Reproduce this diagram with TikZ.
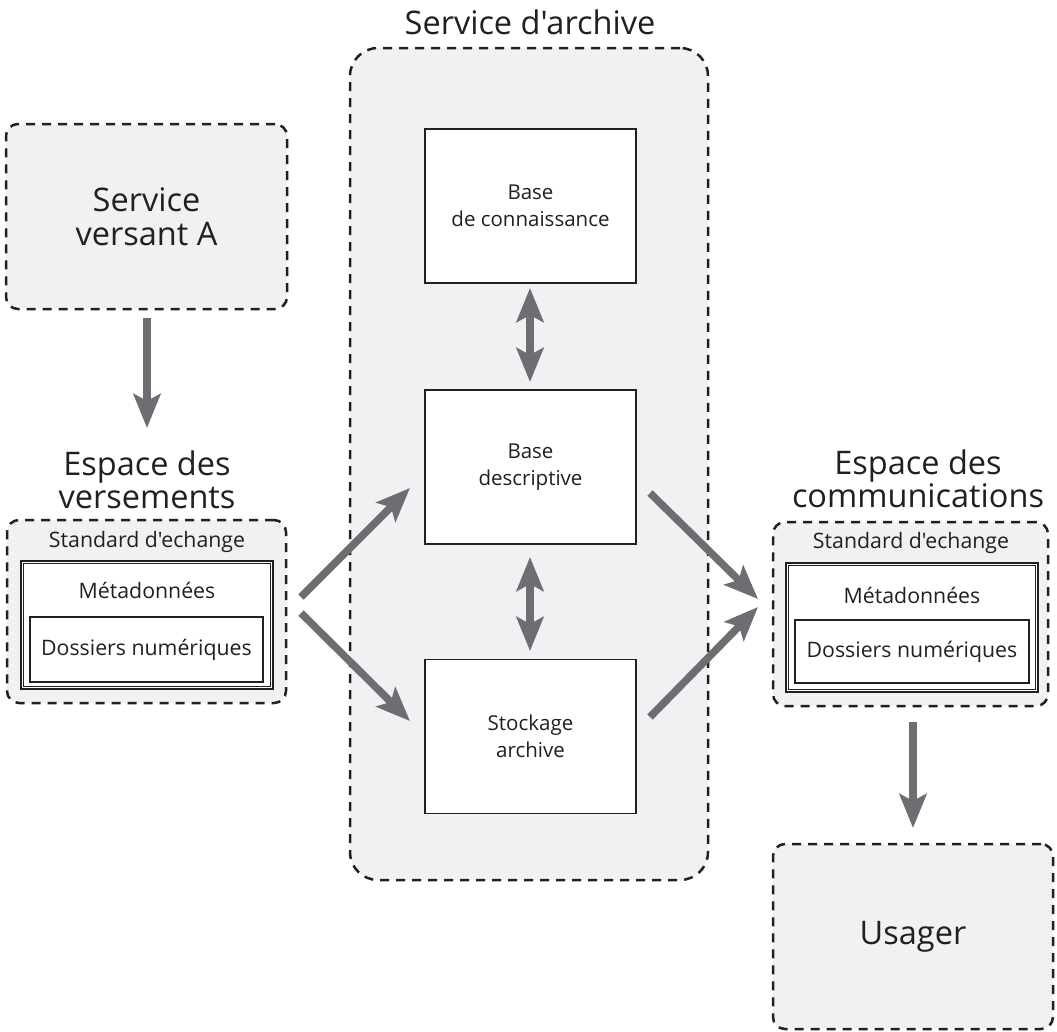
\documentclass[tikz,border=0pt]{standalone}
\usepackage{fontspec}
\setmainfont{Open Sans}[Ligatures=TeXOff]
\usetikzlibrary{arrows.meta}
\definecolor{ink}{HTML}{231F20}
\definecolor{panel}{HTML}{F0F1F3}
\definecolor{flow}{HTML}{6D6E71}
\newcommand{\bigtxt}{\fontsize{32.5}{33.5}\selectfont}
\newcommand{\midtxt}{\fontsize{20.5}{26.5}\selectfont}
\newcommand{\smalltxt}{\fontsize{21.3}{25}\selectfont}
\begin{document}
\begin{tikzpicture}[x=1pt,y=-1pt,
  zone/.style={draw=ink, fill=panel, line width=2.5pt, dash pattern=on 9pt off 7pt,
    rounded corners=12pt, inner sep=0pt, text=ink, align=center},
  card/.style={draw=ink, fill=white, line width=1.3pt, minimum width=211pt,
    minimum height=154pt, text=ink, align=center, inner sep=0pt},
  frame/.style={draw=ink, fill=white, line width=2pt, inner sep=0pt},
  frameline/.style={draw=ink, line width=1pt},
  docbox/.style={draw=ink, fill=white, line width=2.2pt, inner sep=0pt, text=ink},
  label/.style={text=ink, align=center, inner sep=0pt},
  flowarrow/.style={draw=flow, line width=7.5pt,
    -{Stealth[length=34pt,width=27pt,inset=7pt]}},
  twoway/.style={draw=flow, line width=7.5pt,
    {Stealth[length=34pt,width=27pt,inset=7pt]}-{Stealth[length=34pt,width=27pt,inset=7pt]}}
]
\useasboundingbox (0,0) rectangle (1057,1031);

% ---- central archive service ----
\node[label, font=\bigtxt] (archtitle) at (530,22) {Service d'archive};
\node[zone, rounded corners=28pt, minimum width=358pt, minimum height=832pt] (archive) at (529,464) {};
\node[card, font=\midtxt] (conn) at (530.5,206) {Base\\de connaissance};
\node[card, font=\midtxt] (desc) at (530.5,467) {Base\\descriptive};
\node[card, font=\midtxt] (stock) at (530.5,736.5) {Stockage\\archive};

% ---- producer side ----
\node[zone, font=\bigtxt, minimum width=281pt, minimum height=185pt] (versant) at (146.5,216.5) {Service\\versant A};
\node[label, font=\bigtxt] (espV) at (147,480) {Espace des\\versements};
\node[zone, minimum width=279pt, minimum height=183pt] (echL) at (146.5,611.5) {};
\node[label, font=\smalltxt] (stdL) at (147,542) {Standard d'echange};
\node[frame, minimum width=252pt, minimum height=128pt] (metaL) at (147,625) {};
\draw[frameline] ([shift={(3.5,3.5)}]metaL.north west) rectangle ([shift={(-3.5,-3.5)}]metaL.south east);
\node[label, font=\smalltxt] (metaLtxt) at (147,590) {Métadonnées};
\node[docbox, font=\smalltxt, minimum width=233pt, minimum height=65pt] (dossL) at (146.5,649.5) {Dossiers numériques};

% ---- user side ----
\node[label, font=\bigtxt] (espC) at (918,479) {Espace des\\communications};
\node[zone, minimum width=275pt, minimum height=184pt] (echR) at (910.5,614) {};
\node[label, font=\smalltxt] (stdR) at (911,543) {Standard d'echange};
\node[frame, minimum width=252pt, minimum height=129pt] (metaR) at (912,627.5) {};
\draw[frameline] ([shift={(3.5,3.5)}]metaR.north west) rectangle ([shift={(-3.5,-3.5)}]metaR.south east);
\node[label, font=\smalltxt] (metaRtxt) at (912,595) {Métadonnées};
\node[docbox, font=\smalltxt, minimum width=234pt, minimum height=63pt] (dossR) at (912,651.5) {Dossiers numériques};
\node[zone, font=\bigtxt, minimum width=280pt, minimum height=185pt] (usager) at (913,936.5) {Usager};

% ---- arrow end points ----
\coordinate (vOut) at (147,318);
\coordinate (vIn) at (147,428);
\coordinate (lA) at (301,597);
\coordinate (lB) at (301,613);
\coordinate (descIn) at (410,488);
\coordinate (stockIn) at (410,721);
\coordinate (descOut) at (650,493);
\coordinate (stockOut) at (650,717);
\coordinate (rA) at (758,599);
\coordinate (rB) at (758,607);
\coordinate (cOut) at (913,722);
\coordinate (cIn) at (913,828);
\coordinate (k1) at (530,288);
\coordinate (k2) at (530,382);
\coordinate (k3) at (530,557);
\coordinate (k4) at (530,651);

% ---- flows ----
\draw[flowarrow] (vOut) -- (vIn);
\draw[flowarrow] (lA) -- (descIn);
\draw[flowarrow] (lB) -- (stockIn);
\draw[flowarrow] (descOut) -- (rA);
\draw[flowarrow] (stockOut) -- (rB);
\draw[flowarrow] (cOut) -- (cIn);
\draw[twoway] (k1) -- (k2);
\draw[twoway] (k3) -- (k4);
\end{tikzpicture}
\end{document}
